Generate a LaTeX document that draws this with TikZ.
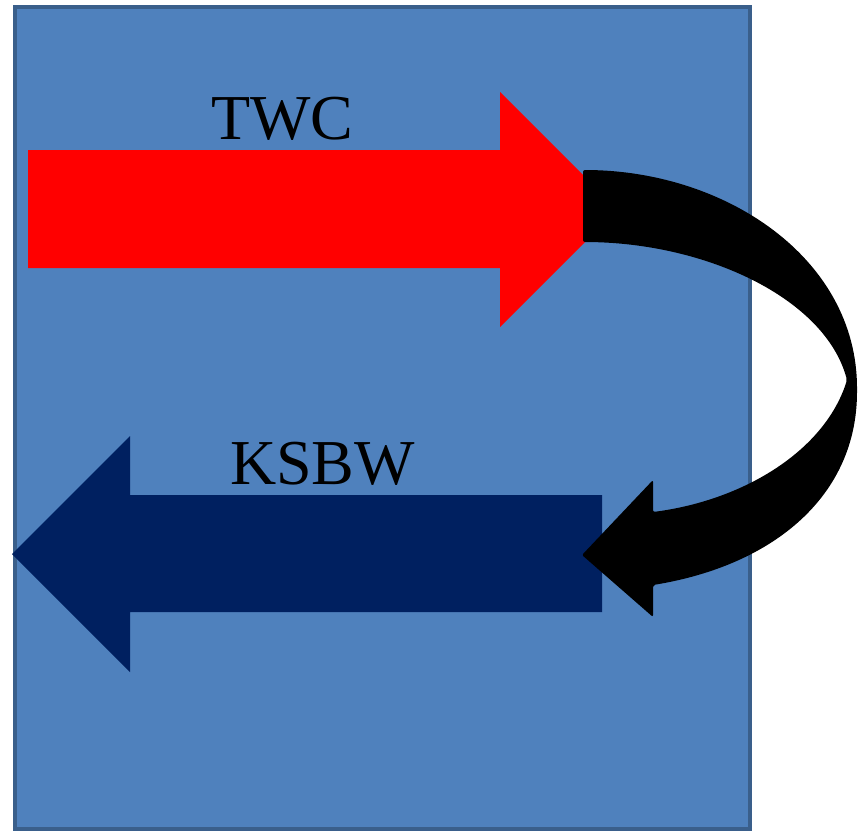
\documentclass[tikz,border=0pt]{standalone}
\usepackage{fontspec}
\setmainfont{Liberation Serif}
\definecolor{boxblue}{HTML}{4F81BD}
\definecolor{boxedge}{HTML}{3A5F8B}
\definecolor{navy}{HTML}{002060}
\begin{document}
\begin{tikzpicture}[x=1pt,y=-1pt,
  lbl/.style={anchor=base,inner sep=0pt,font=\fontsize{64}{70}\selectfont}]
\useasboundingbox (0,0) rectangle (864,831);
% background panel
\draw[fill=boxblue,draw=boxedge,line width=4pt] (15,7) rectangle (750,829);
% red arrow
\fill[red] (28,150) -- (500,150) -- (500,92) -- (617.5,209.5) -- (500,327) -- (500,268) -- (28,268) -- cycle;
% navy arrow
\fill[navy] (602,495) -- (130,495) -- (130,436) -- (12,554) -- (130,672) -- (130,612) -- (602,612) -- cycle;
% black curved arrow
\fill[black,rounded corners=2pt] (583,170)
  .. controls (725,170) and (857,258) .. (857,390)
  .. controls (857,495) and (775,565) .. (653,585)
  -- (653,617) -- (582,555) -- (653,480) -- (653,512)
  .. controls (745,500) and (825,450) .. (847,380)
  .. controls (825,298) and (705,242) .. (583,242) -- cycle;
% labels
\node[lbl] (twc) at (282.5,139) {TWC};
\node[lbl] (ksbw) at (322.5,484) {KSBW};
\end{tikzpicture}
\end{document}
